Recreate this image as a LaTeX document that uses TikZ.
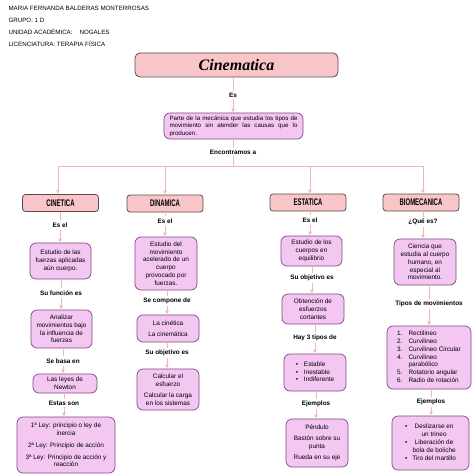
\documentclass[tikz,border=0pt]{standalone}
\usepackage{fontspec}
\setmainfont{Liberation Sans}
\newfontfamily\titlefont{Liberation Serif}
\newfontfamily\headfont[FakeStretch=0.62]{Liberation Sans}
\usetikzlibrary{arrows.meta}
\definecolor{rosefill}{HTML}{F8C6C9}
\definecolor{roseedge}{HTML}{5B4A4D}
\definecolor{lilacfill}{HTML}{F4C6F2}
\definecolor{lilacedge}{HTML}{7E4B7E}
\definecolor{linkpink}{HTML}{F2B5BE}

\begin{document}
\begin{tikzpicture}[x=1pt,y=-1pt,
		titlebox/.style={draw=roseedge,fill=rosefill,line width=.8pt,rounded corners=5pt,minimum width=203,minimum height=24,font=\titlefont\bfseries\itshape\fontsize{16}{18}\selectfont},
		headbox/.style={draw=roseedge,fill=rosefill,line width=.8pt,rounded corners=3pt,minimum width=76,minimum height=17,font=\headfont\bfseries\fontsize{9.6}{10}\selectfont},
		card/.style={draw=lilacedge,fill=lilacfill,line width=.7pt,rounded corners=6pt,align=center,inner sep=1pt,font=\fontsize{6.4}{7.8}\selectfont},
		lbl/.style={font=\bfseries\fontsize{6.4}{7.8}\selectfont,inner sep=2pt},
		conn/.style={draw=linkpink,line width=1pt},
		>={Latex[length=4pt,width=4pt]}]
		\useasboundingbox (0,0) rectangle (474,476);
		\node[anchor=west,font=\fontsize{6.2}{7}\selectfont] (alumna) at (5,8) {MARIA FERNANDA BALDERAS MONTERROSAS};
		\node[anchor=west,font=\fontsize{6.2}{7}\selectfont] (grupo) at (5,20) {GRUPO: 1 D};
		\node[anchor=west,font=\fontsize{6.2}{7}\selectfont] (unidad) at (5,32) {UNIDAD ACADÉMICA:\hspace{7pt}NOGALES};
		\node[anchor=west,font=\fontsize{6.2}{7}\selectfont] (lic) at (5,44) {LICENCIATURA: TERAPIA FÍSICA};

		\node[titlebox] (cinematica) at (236.5,65) {Cinematica};
		\node[lbl] (es) at (233,95) {Es};
		\node[card,minimum width=139,minimum height=26,align=left,font=\fontsize{6.2}{7.4}\selectfont] (def) at (233.5,126) {\makebox[128pt][s]{Parte de la mecánica que estudia los tipos de}\\\makebox[128pt][s]{movimiento sin atender las causas que lo}\\producen.};
		\node[lbl] (encontramos) at (233,152) {Encontramos a};
		\coordinate (bus) at (233,166);
		\coordinate (bus1) at (58,166);
		\coordinate (bus2) at (165,166);
		\coordinate (bus3) at (310,166);
		\coordinate (bus4) at (423,166);

		\node[headbox] (cinetica) at (60.5,203) {CINETICA};
		\node[headbox] (dinamica) at (165,203.5) {DINAMICA};
		\node[headbox] (estatica) at (308,202.5) {ESTATICA};
		\node[headbox] (biomecanica) at (421,202.5) {BIOMECANICA};

		\node[lbl] (c1es) at (60,225) {Es el};
		\node[card,minimum width=61,minimum height=36] (c1a) at (60.5,261) {Estudio de las\\fuerzas aplicadas\\aún cuerpo.};
		\node[lbl] (c1fun) at (61,293) {Su función es};
		\node[card,minimum width=61,minimum height=38] (c1b) at (61.5,329) {Analizar\\movimientos bajo\\la influencia de\\fuerzas};
		\node[lbl] (c1basa) at (63,361) {Se basa en};
		\node[card,minimum width=64,minimum height=19] (c1c) at (65,383.5) {Las leyes de\\Newton};
		\node[lbl] (c1son) at (64,403) {Estas son};
		\node[card,minimum width=98,minimum height=56] (c1d) at (66,445) {1ª Ley: principio o ley de\\inercia\\[4pt]2ª Ley: Principio de acción\\[4pt]3ª Ley: Principio de acción y\\reacción};

		\node[lbl] (c2es) at (165,221) {Es el};
		\node[card,minimum width=62,minimum height=53] (c2a) at (166,263.5) {Estudio del\\movimiento\\acelerado de un\\cuerpo\\provocado por\\fuerzas.};
		\node[lbl] (c2comp) at (167,301) {Se compone de};
		\node[card,minimum width=62,minimum height=27] (c2b) at (168,328.5) {La cinética\\[3.5pt]La cinemática};
		\node[lbl] (c2obj) at (167,353) {Su objetivo es};
		\node[card,minimum width=62,minimum height=41] (c2c) at (168,389.5) {Calcular el\\esfuerzo\\[3.5pt]Calcular la carga\\en los sistemas};

		\node[lbl] (c3es) at (310,220) {Es el};
		\node[card,minimum width=61,minimum height=30] (c3a) at (311.5,251) {Estudio de los\\cuerpos en\\equilibrio};
		\node[lbl] (c3obj) at (312,278) {Su objetivo es};
		\node[card,minimum width=62,minimum height=30] (c3b) at (313,309) {Obtención de\\esfuerzos\\cortantes};
		\node[lbl] (c3tipos) at (315,338) {Hay 3 tipos de};
		\node[card,minimum width=62,minimum height=37] (c3c) at (315,372.5) {\begin{tabular}{@{}l@{\hspace{6pt}}l@{}}\textbullet&Estable\\\textbullet&Inestable\\\textbullet&Indiferente\end{tabular}};
		\node[lbl] (c3ej) at (316,404) {Ejemplos};
		\node[card,minimum width=62,minimum height=48] (c3d) at (317,443) {Péndulo\\[3.5pt]Bastón sobre su\\punta\\[3.5pt]Rueda en su eje};

		\node[lbl] (c4que) at (423,222) {¿Qué es?};
		\node[card,minimum width=62,minimum height=46] (c4a) at (425,262) {Ciencia que\\estudia al cuerpo\\humano, en\\especial al\\movimiento.};
		\node[lbl] (c4tipos) at (429,304) {Tipos de movimientos};
		\node[card,minimum width=84,minimum height=63] (c4b) at (429,357.5) {\begin{tabular}{@{}r@{\hspace{6pt}}l@{}}1.&Rectilineo\\2.&Curvilineo\\3.&Curvilineo Circular\\4.&Curvilineo\\&parabólico\\5.&Rotatorio angular\\6.&Radio de rotación\end{tabular}};
		\node[lbl] (c4ej) at (431,402) {Ejemplos};
		\node[card,minimum width=77,minimum height=54] (c4c) at (430.5,443) {\begin{tabular}{@{}c@{\hspace{5pt}}c@{}}\textbullet&Deslizarse en\\&un trineo\\\textbullet&Liberación de\\&bola de boliche\\\textbullet&Tiro del martillo\end{tabular}};

		\foreach \a/\l/\b in {cinematica/es/def,cinetica/c1es/c1a,c1a/c1fun/c1b,c1b/c1basa/c1c,c1c/c1son/c1d,dinamica/c2es/c2a,c2a/c2comp/c2b,c2b/c2obj/c2c,estatica/c3es/c3a,c3a/c3obj/c3b,c3b/c3tipos/c3c,c3c/c3ej/c3d,biomecanica/c4que/c4a,c4a/c4tipos/c4b,c4b/c4ej/c4c}
		{
			\draw[conn] (\l |- \a.south) -- (\l.north);
			\draw[conn,->] (\l.south) -- (\l |- \b.north);
		}
		\draw[conn] (encontramos |- def.south) -- (encontramos.north);
		\draw[conn] (encontramos.south) -- (bus);
		\draw[conn] (bus1) -- (bus4);
		\foreach \p/\h in {bus1/cinetica,bus2/dinamica,bus3/estatica,bus4/biomecanica}
		\draw[conn,->] (\p) -- (\p |- \h.north);
	\end{tikzpicture}
\end{document}
